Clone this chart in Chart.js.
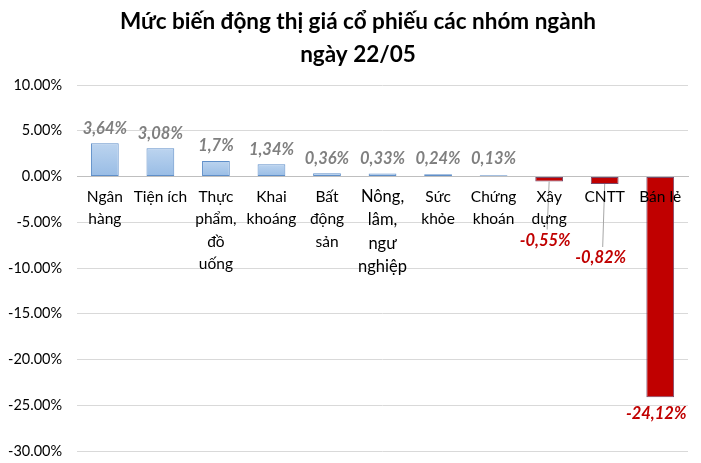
<!DOCTYPE html>
<html>
<head>
<meta charset="utf-8">
<script src="https://cdn.jsdelivr.net/npm/chart.js@4.4.1/dist/chart.umd.min.js"></script>
<style>
  html, body { margin: 0; padding: 0; background: #fff; }
  #wrap { width: 701px; height: 463px; position: relative; }
</style>
</head>
<body>
<div id="wrap"><canvas id="chart" width="701" height="463"></canvas></div>
<script>
// Dữ liệu
const categories = [
  ['Ngân', 'hàng'], ['Tiện ích'], ['Thực', 'phẩm,', 'đồ', 'uống'], ['Khai', 'khoáng'],
  ['Bất', 'động', 'sản'], ['Nông,', 'lâm,', 'ngư', 'nghiệp'], ['Sức', 'khỏe'],
  ['Chứng', 'khoán'], ['Xây', 'dựng'], ['CNTT'], ['Bán lẻ']
]
const changes = [3.64, 3.08, 1.7, 1.34, 0.36, 0.33, 0.24, 0.13, -0.55, -0.82, -24.12]
const titleLines = ['Mức biến động thị giá cổ phiếu các nhóm ngành', 'ngày 22/05']
const yMin = -30
const yMax = 10
const yStep = 5

// nhãn âm: khoảng cách đẩy xuống (px) dưới đáy cột
const negLabelShift = { 8: 59, 9: 74, 10: 16 }

const fmt = (v) => String(v).replace('.', ',') + '%'

// vẽ nhãn giá trị + tiêu đề
const labelPlugin = {
  id: 'valueLabels',
  afterDatasetsDraw(chart) {
    const ctx = chart.ctx
    const meta = chart.getDatasetMeta(0)
    const zeroY = chart.scales.y.getPixelForValue(0)
    ctx.save()
    ctx.textAlign = 'center'
    ctx.textBaseline = 'middle'
    ctx.font = 'italic bold 16.5px Lato'
    meta.data.forEach((bar, i) => {
      const v = changes[i]
      if (v >= 0) {
        const y = Math.min(bar.y - 15, zeroY - 18)
        ctx.fillStyle = '#7f7f7f'
        ctx.fillText(fmt(v), bar.x, y)
      } else {
        const shift = negLabelShift[i] || 16
        const y = bar.y + shift
        if (shift > 30) {
          ctx.strokeStyle = '#a6a6a6'
          ctx.lineWidth = 1
          ctx.beginPath()
          ctx.moveTo(bar.x, bar.y)
          ctx.lineTo(bar.x - 2, y - 11)
          ctx.stroke()
        }
        ctx.fillStyle = '#c00000'
        ctx.fillText(fmt(v), bar.x - 4, y)
      }
    })
    ctx.restore()
  },
  afterDraw(chart) {
    const ctx = chart.ctx
    ctx.save()
    ctx.textAlign = 'center'
    ctx.textBaseline = 'middle'
    ctx.fillStyle = '#000'
    ctx.font = 'bold 22.5px Lato'
    titleLines.forEach((t, i) => ctx.fillText(t, 358, 22 + i * 33))
    ctx.restore()
  }
}

new Chart(document.getElementById('chart'), {
  type: 'bar',
  data: {
    labels: categories,
    datasets: [{
      data: changes,
      backgroundColor: (c) => {
        const v = c.raw
        if (v < 0) return '#c00000'
        const y = c.chart.scales.y
        const top = y ? y.getPixelForValue(v) : NaN
        const base = y ? y.getPixelForValue(0) : NaN
        if (!Number.isFinite(top) || !Number.isFinite(base)) return '#a7c6ea'
        const g = c.chart.ctx.createLinearGradient(0, top, 0, base)
        g.addColorStop(0, '#bcd4ef')
        g.addColorStop(1, '#98bce5')
        return g
      },
      borderColor: (c) => (c.raw < 0 ? '#7a4a6a' : '#5f8fc9'),
      borderWidth: 1,
      borderSkipped: false,
      barPercentage: 0.5,
      categoryPercentage: 1.0
    }]
  },
  options: {
    responsive: false,
    animation: false,
    layout: { padding: { top: 85, right: 13, bottom: 12, left: -7 } },
    scales: {
      x: {
        position: { y: 0 },
        afterFit: (s) => { s.height = 0; s.paddingBottom = 0; s.paddingTop = 0 },
        grid: { display: false, drawTicks: false },
        border: { color: '#bfbfbf' },
        ticks: {
          z: 1,
          maxRotation: 0,
          autoSkip: false,
          padding: 9,
          color: '#000',
          font: (c) => (c.index === 5
            ? { family: 'Lato', size: 16.5, lineHeight: 1.4 }
            : { family: 'Lato', size: 15.5, lineHeight: 1.45 })
        }
      },
      y: {
        min: yMin,
        max: yMax,
        afterFit: (s) => { s.paddingBottom = 0; s.paddingTop = 0 },
        grid: { color: '#d9d9d9', drawTicks: false },
        border: { display: false },
        ticks: {
          stepSize: yStep,
          padding: 15,
          color: '#000',
          font: { family: 'Lato', size: 14.5 },
          callback: (v) => v.toFixed(2) + '%'
        }
      }
    },
    plugins: {
      legend: { display: false },
      tooltip: { enabled: false }
    }
  },
  plugins: [labelPlugin]
})
</script>
</body>
</html>
